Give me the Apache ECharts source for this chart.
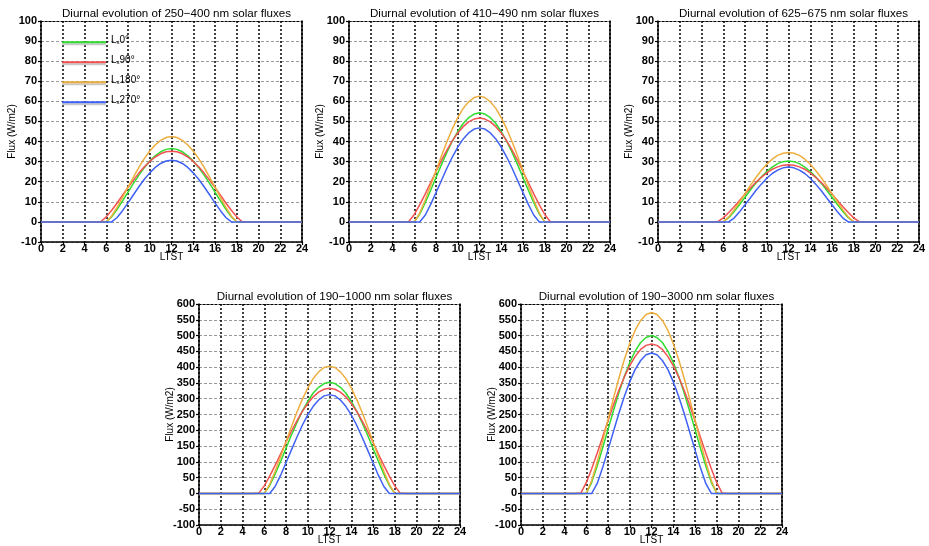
<!DOCTYPE html>
<html>
<head>
<meta charset="utf-8">
<script src="https://cdn.jsdelivr.net/npm/echarts@6/dist/echarts.min.js"></script>
<style>html,body{margin:0;padding:0;background:#fff}#c{width:929px;height:546px}</style>
</head>
<body>
<div id="c"></div>
<script>
// Local solar time (hours) shared by all curves
var hours = [0,5,5.5,6,6.5,7,7.5,8,8.5,9,9.5,10,10.5,11,11.5,12,12.5,13,13.5,14,14.5,15,15.5,16,16.5,17,17.5,18,18.5,19,24];

var seriesNames = ['Ls0', 'Ls90', 'Ls180', 'Ls270'];
var seriesLabels = ['0°', '90°', '180°', '270°'];

var panelTitles = [
  'Diurnal evolution of 250\u2212400 nm solar fluxes',
  'Diurnal evolution of 410\u2212490 nm solar fluxes',
  'Diurnal evolution of 625\u2212675 nm solar fluxes',
  'Diurnal evolution of 190\u22121000 nm solar fluxes',
  'Diurnal evolution of 190\u22123000 nm solar fluxes'
];

// Panel 1: 250-400 nm
var p1_L0   = [0,0,0,0,2.6,6.3,10.5,14.8,19.2,23.3,27.0,30.3,32.9,34.9,36.1,36.5,36.1,34.9,32.9,30.3,27.0,23.3,19.2,14.8,10.5,6.3,2.6,0,0,0,0];
var p1_L90  = [0,0,0.1,2.5,5.8,9.4,13.3,17.1,20.8,24.3,27.4,30.1,32.3,33.9,34.9,35.2,34.9,33.9,32.3,30.1,27.4,24.3,20.8,17.1,13.3,9.4,5.8,2.5,0.1,0,0];
var p1_L180 = [0,0,0,0,3.0,7.3,12.2,17.3,22.3,27.1,31.5,35.3,38.3,40.6,42.0,42.5,42.0,40.6,38.3,35.3,31.5,27.1,22.3,17.3,12.2,7.3,3.0,0,0,0,0];
var p1_L270 = [0,0,0,0,0,2.2,5.6,9.5,13.5,17.5,21.2,24.4,27.1,29.1,30.3,30.7,30.3,29.1,27.1,24.4,21.2,17.5,13.5,9.5,5.6,2.2,0,0,0,0,0];

// Panel 2: 410-490 nm
var p2_L0   = [0,0,0,0,3.9,9.4,15.6,22.1,28.5,34.6,40.2,45.0,49.0,51.9,53.7,54.3,53.7,51.9,49.0,45.0,40.2,34.6,28.5,22.1,15.6,9.4,3.9,0,0,0,0];
var p2_L90  = [0,0,0.2,3.7,8.5,13.8,19.5,25.1,30.6,35.7,40.3,44.3,47.4,49.8,51.2,51.7,51.2,49.8,47.4,44.3,40.3,35.7,30.6,25.1,19.5,13.8,8.5,3.7,0.2,0,0];
var p2_L180 = [0,0,0,0,4.4,10.8,18.0,25.4,32.8,39.9,46.3,51.9,56.5,59.8,61.9,62.6,61.9,59.8,56.5,51.9,46.3,39.9,32.8,25.4,18.0,10.8,4.4,0,0,0,0];
var p2_L270 = [0,0,0,0,0,3.3,8.6,14.6,20.6,26.7,32.3,37.2,41.3,44.3,46.2,46.8,46.2,44.3,41.3,37.2,32.3,26.7,20.6,14.6,8.6,3.3,0,0,0,0,0];

// Panel 3: 625-675 nm
var p3_L0   = [0,0,0,0,2.1,5.2,8.7,12.3,15.9,19.3,22.4,25.1,27.3,29.0,30.0,30.3,30.0,29.0,27.3,25.1,22.4,19.3,15.9,12.3,8.7,5.2,2.1,0,0,0,0];
var p3_L90  = [0,0,0.1,2.0,4.7,7.6,10.7,13.9,16.9,19.7,22.2,24.4,26.2,27.4,28.2,28.5,28.2,27.4,26.2,24.4,22.2,19.7,16.9,13.9,10.7,7.6,4.7,2.0,0.1,0,0];
var p3_L180 = [0,0,0,0,2.5,6.0,9.9,14.1,18.2,22.1,25.6,28.7,31.2,33.1,34.2,34.6,34.2,33.1,31.2,28.7,25.6,22.1,18.2,14.1,9.9,6.0,2.5,0,0,0,0];
var p3_L270 = [0,0,0,0,0,1.9,5.0,8.5,12.0,15.6,18.8,21.7,24.1,25.8,26.9,27.3,26.9,25.8,24.1,21.7,18.8,15.6,12.0,8.5,5.0,1.9,0,0,0,0,0];

// Panel 4: 190-1000 nm
var p4_L0   = [0,0,0,0,25,61,101,143,185,224,261,292,318,336,348,352,348,336,318,292,261,224,185,143,101,61,25,0,0,0,0];
var p4_L90  = [0,0,1,24,55,89,125,162,197,230,260,285,306,321,330,333,330,321,306,285,260,230,197,162,125,89,55,24,1,0,0];
var p4_L180 = [0,0,0,0,29,70,116,164,211,257,298,334,364,385,399,403,399,385,364,334,298,257,211,164,116,70,29,0,0,0,0];
var p4_L270 = [0,0,0,0,0,22,57,97,138,178,216,249,276,296,309,313,309,296,276,249,216,178,138,97,57,22,0,0,0,0,0];

// Panel 5: 190-3000 nm
var p5_L0   = [0,0,0,0,35,86,143,203,262,319,370,415,451,478,494,500,494,478,451,415,370,319,262,203,143,86,35,0,0,0,0];
var p5_L90  = [0,0,1,34,78,127,178,230,280,327,369,405,434,456,469,473,469,456,434,405,369,327,280,230,178,127,78,34,1,0,0];
var p5_L180 = [0,0,0,0,41,99,164,233,301,365,424,475,517,548,567,573,567,548,517,475,424,365,301,233,164,99,41,0,0,0,0];
var p5_L270 = [0,0,0,0,0,31,81,138,196,254,307,354,393,421,439,445,439,421,393,354,307,254,196,138,81,31,0,0,0,0,0];

var panelData = [
  [p1_L0, p1_L90, p1_L180, p1_L270],
  [p2_L0, p2_L90, p2_L180, p2_L270],
  [p3_L0, p3_L90, p3_L180, p3_L270],
  [p4_L0, p4_L90, p4_L180, p4_L270],
  [p5_L0, p5_L90, p5_L180, p5_L270]
];

var yRanges = [[-10,100,10],[-10,100,10],[-10,100,10],[-100,600,50],[-100,600,50]];
var xTicks = {min: 0, max: 24, interval: 2};

var colors = ['#2fdc2f', '#f25252', '#eeae3e', '#3f62f5'];
var grids = [
  {left: 41, top: 21, width: 261, height: 221},
  {left: 349, top: 21, width: 261, height: 221},
  {left: 658, top: 21, width: 261, height: 221},
  {left: 199, top: 304, width: 261, height: 221},
  {left: 521, top: 304, width: 261, height: 221}
];

var FONT = 'Liberation Sans';
var option = {
  backgroundColor: '#fff',
  animation: false,
  title: [], grid: [], xAxis: [], yAxis: [], series: [],
  legend: {
    left: 62, top: 35.2, orient: 'vertical', padding: 0,
    itemWidth: 44, itemHeight: 2, itemGap: 10,
    icon: 'rect',
    data: seriesNames,
    itemStyle: {shadowColor: '#c8c8c8', shadowOffsetY: 2, shadowBlur: 0},
    formatter: function (name) {
      var i = seriesNames.indexOf(name);
      return '{a|L}{s|s}{a|' + seriesLabels[i] + '}';
    },
    textStyle: {
      fontFamily: FONT, color: '#000', padding: [0, 0, 8, 0],
      rich: {
        a: {fontSize: 10, fontFamily: FONT, color: '#000', lineHeight: 14, verticalAlign: 'bottom'},
        s: {fontSize: 6, fontFamily: FONT, color: '#000', lineHeight: 11, verticalAlign: 'bottom'}
      }
    }
  }
};

grids.forEach(function (g, p) {
  option.grid.push({left: g.left, top: g.top, width: g.width, height: g.height, containLabel: false});
  option.title.push({
    text: panelTitles[p],
    left: g.left + g.width / 2, top: g.top - 18, textAlign: 'center',
    textStyle: {fontFamily: FONT, fontSize: 11.6, fontWeight: 'normal', color: '#000'}
  });
  var yr = yRanges[p];
  // bottom x axis
  option.xAxis.push({
    type: 'value', gridIndex: p, min: xTicks.min, max: xTicks.max, interval: xTicks.interval,
    position: 'bottom',
    name: 'LTST', nameLocation: 'middle', nameGap: 10, nameMoveOverlap: false,
    nameTextStyle: {fontFamily: FONT, fontSize: 10, color: '#000'},
    axisLine: {onZero: false, lineStyle: {color: '#000', width: 1.5}},
    axisTick: {show: true, length: 3, lineStyle: {color: '#000', width: 1.2}},
    axisLabel: {fontFamily: FONT, fontSize: 11, fontWeight: 'bold', color: '#000', margin: 1},
    splitLine: {show: true, lineStyle: {color: '#000', type: [2, 2], width: 1.5}}
  });
  // top border (dotted)
  option.xAxis.push({
    type: 'value', gridIndex: p, min: xTicks.min, max: xTicks.max, interval: xTicks.interval,
    position: 'top',
    axisLine: {onZero: false, lineStyle: {color: '#000', width: 1.2, type: [2, 2]}},
    axisTick: {show: false}, axisLabel: {show: false}, splitLine: {show: false}
  });
  // left y axis
  option.yAxis.push({
    type: 'value', gridIndex: p, min: yr[0], max: yr[1], interval: yr[2],
    position: 'left',
    name: 'Flux (W/m2)', nameLocation: 'middle', nameGap: 24, nameMoveOverlap: false,
    nameTextStyle: {fontFamily: FONT, fontSize: 10, color: '#000'},
    axisLine: {onZero: false, lineStyle: {color: '#000', width: 1.5}},
    axisTick: {show: true, length: 3, lineStyle: {color: '#000', width: 1.2}},
    axisLabel: {fontFamily: FONT, fontSize: 11, fontWeight: 'bold', color: '#000', margin: 4},
    splitLine: {show: true, lineStyle: {color: '#9a9a9a', type: [3, 2], width: 1}}
  });
  // right border
  option.yAxis.push({
    type: 'value', gridIndex: p, min: yr[0], max: yr[1], interval: yr[2],
    position: 'right',
    axisLine: {onZero: false, lineStyle: {color: '#000', width: 1.5}},
    axisTick: {show: false}, axisLabel: {show: false}, splitLine: {show: false}
  });
  panelData[p].forEach(function (vals, k) {
    option.series.push({
      name: seriesNames[k], type: 'line',
      xAxisIndex: p * 2, yAxisIndex: p * 2,
      data: hours.map(function (h, i) { return [h, vals[i]]; }),
      showSymbol: false, symbol: 'none',
      lineStyle: {color: colors[k], width: 1.5},
      itemStyle: {color: colors[k]},
      z: 3 + k
    });
  });
});

var chart = echarts.init(document.getElementById('c'), null, {renderer: 'canvas'});
chart.setOption(option);
</script>
</body>
</html>
